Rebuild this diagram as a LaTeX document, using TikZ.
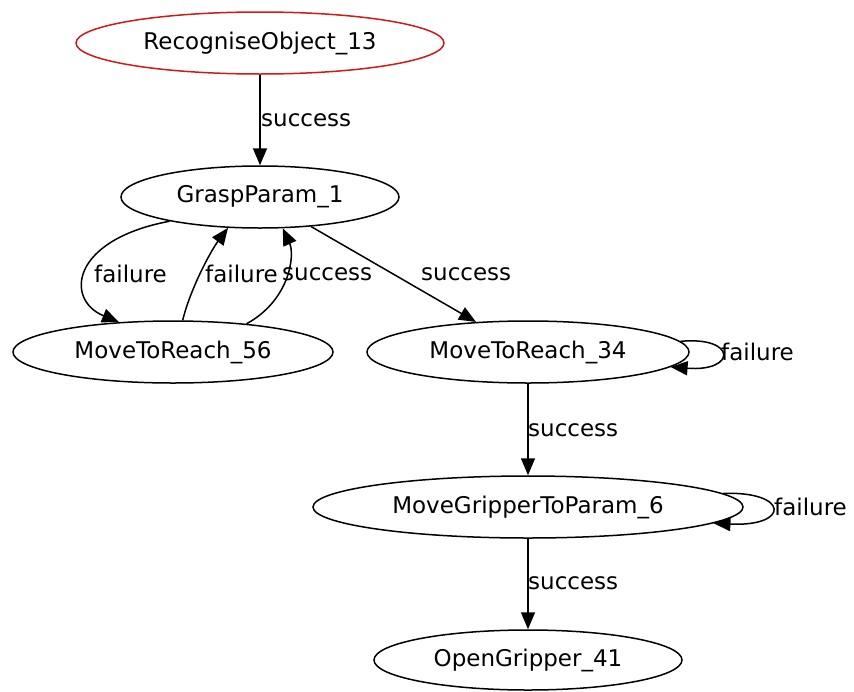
\documentclass[tikz,border=0pt]{standalone}
\usepackage{fontspec}
\setmainfont{DejaVu Sans}
\usetikzlibrary{shapes.geometric,arrows.meta}
\begin{document}
\begin{tikzpicture}[x=1pt,y=-1pt,
  state/.style={ellipse,draw,line width=1.5pt,inner sep=0pt,
    font=\fontsize{23}{27}\selectfont},
  arr/.style={line width=1.5pt,-{Triangle[length=17pt,width=14pt]}},
  lbl/.style={anchor=west,inner sep=0pt,font=\fontsize{23}{27}\selectfont}]
\useasboundingbox (0,0) rectangle (854,691);
% states
\node[state,draw=red!80!black!90,minimum width=368pt,minimum height=62pt] (r13) at (260,43) {RecogniseObject\_13};
\node[state,minimum width=278pt,minimum height=62pt] (g1) at (260,197) {GraspParam\_1};
\node[state,minimum width=320pt,minimum height=62pt] (m56) at (173,352) {MoveToReach\_56};
\node[state,minimum width=322pt,minimum height=62pt] (m34) at (528,352) {MoveToReach\_34};
\node[state,minimum width=430pt,minimum height=62pt] (mg6) at (528,507) {MoveGripperToParam\_6};
\node[state,minimum width=308pt,minimum height=60pt] (og41) at (528,660) {OpenGripper\_41};
% transitions
\draw[arr] (r13) -- (g1);
\node[lbl] (l1) at (261,120) {success};
\draw[arr] (g1.195) .. controls (70,240) and (65,300) .. (m56.151);
\node[lbl] (l2) at (94,274) {failure};
\draw[arr] (m56.73) .. controls (190,290) and (210,252) .. (g1.224);
\node[lbl] (l3) at (205,274) {failure};
\draw[arr] (m56.21) .. controls (290,300) and (295,255) .. (g1.306);
\node[lbl] (l4) at (282,274) {success};
\draw[arr] (g1) -- (m34);
\node[lbl] (l5) at (421,274) {success};
\draw[arr] (m34.4) .. controls (737,336) and (737,372) .. (m34.-6);
\node[lbl] (l6) at (721,352) {failure};
\draw[arr] (m34) -- (mg6);
\node[lbl] (l7) at (528,430) {success};
\draw[arr] (mg6.4) .. controls (790,491) and (790,527) .. (mg6.-5);
\node[lbl] (l8) at (774,507) {failure};
\draw[arr] (mg6) -- (og41);
\node[lbl] (l9) at (528,583) {success};
\end{tikzpicture}
\end{document}
